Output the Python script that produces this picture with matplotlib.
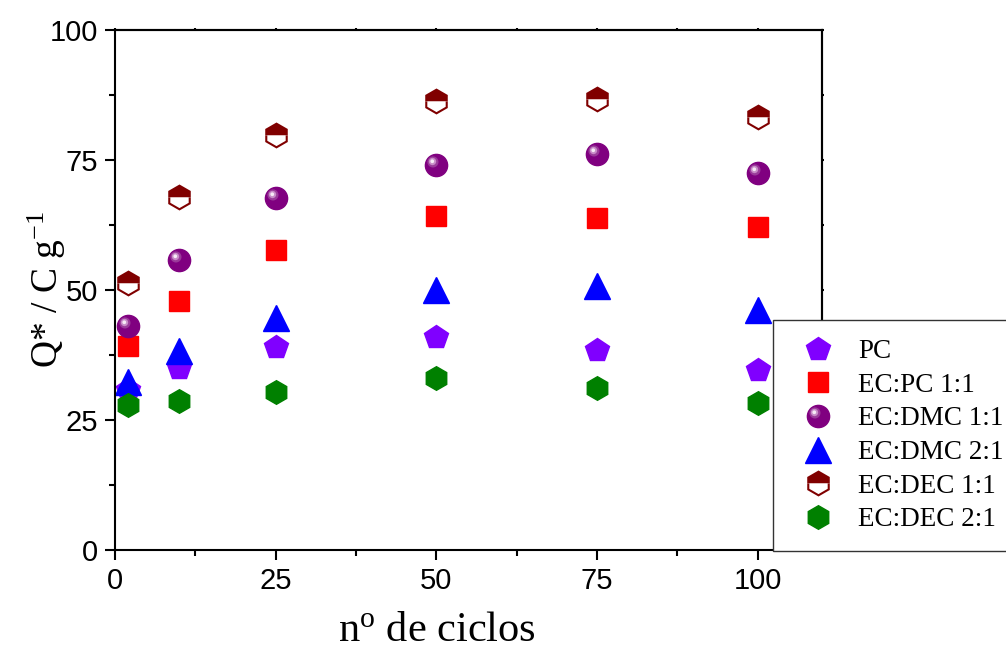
import numpy as np
import matplotlib
matplotlib.use("Agg")
import matplotlib.pyplot as plt
from matplotlib.path import Path
from matplotlib.legend_handler import HandlerTuple
from matplotlib.ticker import MultipleLocator

# ******************************************************************************
# * data
# ******************************************************************************
ciclos = [2, 10, 25, 50, 75, 100]
pc = [30.8, 35.0, 39.0, 41.0, 38.5, 34.7]
ec_pc_11 = [39.2, 47.9, 57.7, 64.2, 63.8, 62.1]
ec_dmc_11 = [43.1, 55.8, 67.6, 74.0, 76.1, 72.5]
ec_dmc_21 = [32.3, 38.3, 44.7, 50.0, 50.8, 46.2]
ec_dec_11 = [51.3, 67.8, 79.8, 86.4, 86.8, 83.3]
ec_dec_21 = [27.8, 28.6, 30.3, 33.0, 31.1, 28.3]

labels = ["PC", "EC:PC 1:1", "EC:DMC 1:1", "EC:DMC 2:1", "EC:DEC 1:1", "EC:DEC 2:1"]
ticks = [0, 25, 50, 75, 100]

plt.rcParams['mathtext.fontset'] = 'custom'
plt.rcParams['mathtext.rm'] = 'Liberation Serif'
plt.rcParams['mathtext.it'] = 'Liberation Serif:italic'

# highlight marker for the "sphere" look: an off-centre circle, with a dummy
# moveto at radius 1 so the marker keeps the same scale as the full circle
def offset_circle(cx, cy, r):
    c = Path.unit_circle()
    verts = np.vstack([[[1.0, 0.0]], c.vertices * r + [cx, cy]])
    codes = np.concatenate([[Path.MOVETO], c.codes])
    return Path(verts, codes)

glow = offset_circle(-0.32, 0.32, 0.5)
mid = offset_circle(-0.36, 0.36, 0.33)
spot = offset_circle(-0.38, 0.38, 0.17)

fig = plt.figure(figsize=(10.06, 6.52), dpi=100)
ax = fig.add_axes([0.1143, 0.1564, 0.7028, 0.7976])

kw = dict(linestyle='none', clip_on=False)
h_pc, = ax.plot(ciclos, pc, marker='p', ms=18, color='#8000FF', mec='#8000FF', **kw)
h_sq, = ax.plot(ciclos, ec_pc_11, marker='s', ms=14, color='#FF0000', mec='#FF0000', **kw)
h_sp, = ax.plot(ciclos, ec_dmc_11, marker='o', ms=16, color='#800080', mec='#800080', **kw)
h_gl, = ax.plot(ciclos, ec_dmc_11, marker=glow, ms=16, color='#9A3A9A', mew=0, **kw)
h_md, = ax.plot(ciclos, ec_dmc_11, marker=mid, ms=16, color='#C88CC8', mew=0, **kw)
h_st, = ax.plot(ciclos, ec_dmc_11, marker=spot, ms=16, color='#F6EAF6', mew=0, **kw)
h_tr, = ax.plot(ciclos, ec_dmc_21, marker='^', ms=19, color='#0000FF', mec='#0000FF', **kw)
h_hx, = ax.plot(ciclos, ec_dec_11, marker='h', ms=17, color='#800000', fillstyle='top',
                markerfacecoloralt='white', mec='#800000', mew=1.5, **kw)
h_gr, = ax.plot(ciclos, ec_dec_21, marker='h', ms=17, color='#008000', mec='#008000', **kw)

ax.set_xlim(0, 110)
ax.set_ylim(0, 100)
ax.set_xticks(ticks)
ax.set_yticks(ticks)
ax.xaxis.set_minor_locator(MultipleLocator(12.5))
ax.yaxis.set_minor_locator(MultipleLocator(12.5))

for s in ax.spines.values():
    s.set_linewidth(1.5)
ax.tick_params(which='major', direction='out', length=7, width=1.5, pad=5,
               labelsize=21, labelfontfamily='Liberation Sans')
ax.tick_params(which='minor', direction='out', length=4, width=1.5)

# tiny ticks on top / right
secx = ax.secondary_xaxis('top')
secx.set_xticks(ticks)
secx.xaxis.set_minor_locator(MultipleLocator(12.5))
secx.tick_params(which='both', direction='out', length=1.5, width=1.5, labeltop=False)
secx.spines['top'].set_linewidth(1.5)
secy = ax.secondary_yaxis('right')
secy.set_yticks(ticks)
secy.yaxis.set_minor_locator(MultipleLocator(12.5))
secy.tick_params(which='both', direction='out', length=1.5, width=1.5, labelright=False)
secy.spines['right'].set_linewidth(1.5)

ax.set_xlabel(r'n$^{\mathrm{o}}$ de ciclos', fontsize=30.5, family='Liberation Serif')
ax.xaxis.set_label_coords(0.455, -0.118)
ax.set_ylabel(r'Q* / C g$^{\mathrm{-1}}$', fontsize=27, family='Liberation Serif')
ax.yaxis.set_label_coords(-0.066, 0.5)

handles = [h_pc, h_sq, (h_sp, h_gl, h_md, h_st), h_tr, h_hx, h_gr]
leg = fig.legend(handles, labels, loc='upper left', bbox_to_anchor=(0.768, 0.509),
                 bbox_transform=fig.transFigure, handler_map={tuple: HandlerTuple(ndivide=1)},
                 prop={'family': 'Liberation Serif', 'size': 19.5}, frameon=True, fancybox=False,
                 edgecolor='#333333', framealpha=1, handlelength=1.93, handletextpad=0.52,
                 labelspacing=0.32, borderpad=0.7, borderaxespad=0, numpoints=1)
leg.get_frame().set_linewidth(1.0)

fig.savefig('out.png', dpi=100)
